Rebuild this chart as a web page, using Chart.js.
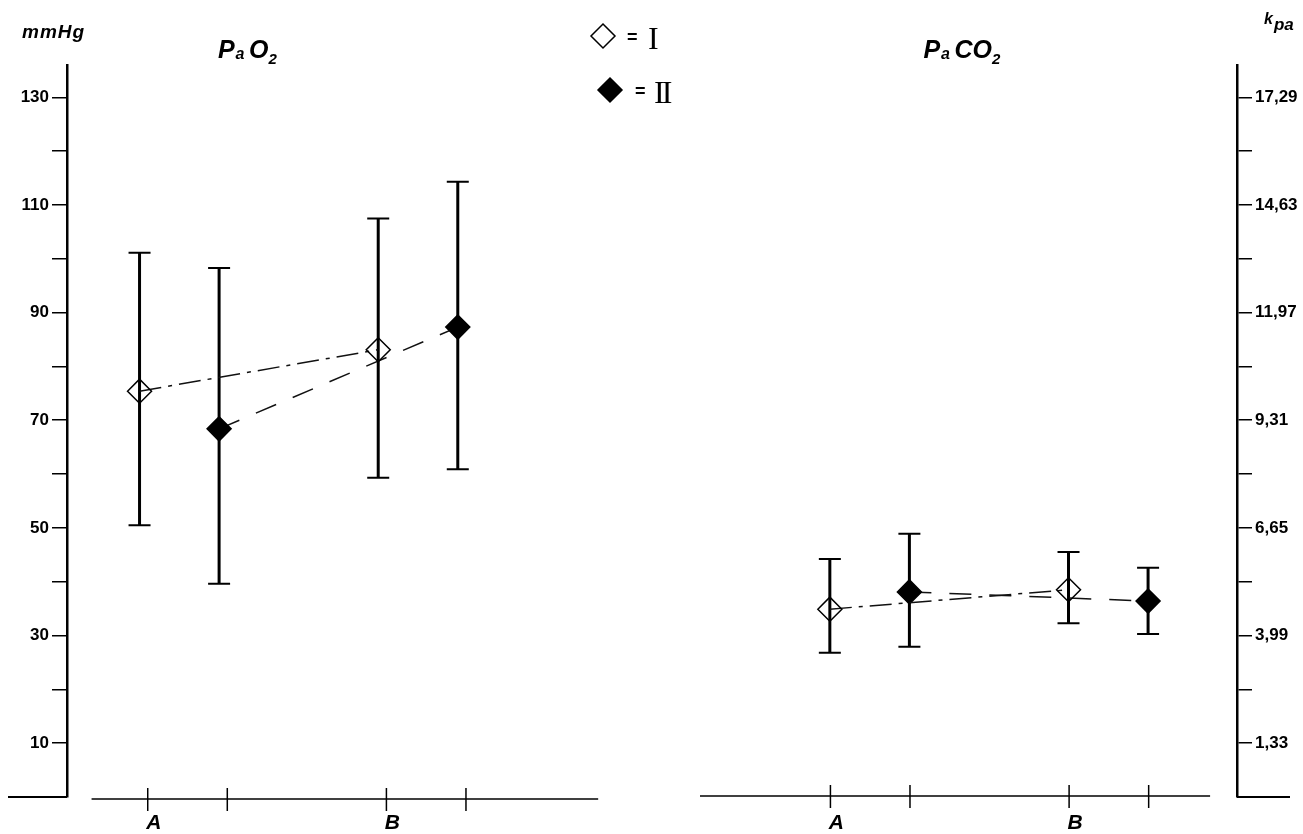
<!DOCTYPE html>
<html><head><meta charset="utf-8">
<script src="https://cdn.jsdelivr.net/npm/chart.js@4.4.1/dist/chart.umd.min.js"></script>
<style>html,body{margin:0;padding:0;background:#fff}canvas{display:block}</style>
</head><body>
<canvas id="c" width="1303" height="834"></canvas>
<script>
// ---------------- data ----------------
const categories = ['A', 'B'];
const groups = ['I', 'II'];
const panelTitles = [['P', 'a', ' ', 'O', '2'], ['P', 'a', ' ', 'CO', '2']];

const pao2Mean_I  = [75.4, 83.1];
const pao2High_I  = [101.1, 107.5];
const pao2Low_I   = [50.5, 59.3];
const pao2Mean_II = [68.4, 87.3];
const pao2High_II = [98.3, 114.3];
const pao2Low_II  = [39.6, 60.9];

const paco2Mean_I  = [34.9, 38.5];
const paco2High_I  = [44.2, 45.5];
const paco2Low_I   = [26.8, 32.3];
const paco2Mean_II = [38.1, 36.4];
const paco2High_II = [48.9, 42.6];
const paco2Low_II  = [27.9, 30.3];

const tickValues    = [10, 20, 30, 40, 50, 60, 70, 80, 90, 100, 110, 120, 130];
const mmHgTickLabels = ['10', '', '30', '', '50', '', '70', '', '90', '', '110', '', '130'];
const kPaTickLabels  = ['1,33', '', '3,99', '', '6,65', '', '9,31', '', '11,97', '', '14,63', '', '17,29'];

// ---------------- layout (positions in x-scale units) ----------------
const LAYOUT = {
  panelStart: [6.2, 65.2], catStep: 20.4, groupStep: 6.8,
  axisSpan: [[2.1, 45.4], [54.1, 97.7]], tickShift: [0.7, 0.05],
  titleX: [12.9, 73.2]
};
const xFor = (p, c, g) => LAYOUT.panelStart[p] + c * LAYOUT.catStep + g * LAYOUT.groupStep;

const FONT = '"Liberation Sans", Arial, sans-serif';

function makeDs(p, g, means, highs, lows) {
  return {
    label: groups[g],
    data: means.map((m, c) => ({ x: xFor(p, c, g), y: m })),
    errHigh: highs, errLow: lows,
    borderColor: '#111', borderWidth: 1.5,
    borderDash: g === 0 ? [22, 7, 4, 7] : [22, 18],
    pointStyle: 'rectRot', pointRadius: 12, pointHoverRadius: 12,
    pointBorderColor: '#000', pointBorderWidth: 1.5,
    pointBackgroundColor: g === 0 ? 'rgba(255,255,255,0)' : '#000',
    fill: false, tension: 0
  };
}

const datasets = [
  makeDs(0, 0, pao2Mean_I, pao2High_I, pao2Low_I),
  makeDs(0, 1, pao2Mean_II, pao2High_II, pao2Low_II),
  makeDs(1, 0, paco2Mean_I, paco2High_I, paco2Low_I),
  makeDs(1, 1, paco2Mean_II, paco2High_II, paco2Low_II)
];

function diamond(ctx, x, y, r, filled) {
  ctx.beginPath();
  ctx.moveTo(x, y - r); ctx.lineTo(x + r, y); ctx.lineTo(x, y + r); ctx.lineTo(x - r, y); ctx.closePath();
  if (filled) { ctx.fillStyle = '#000'; ctx.fill(); }
  ctx.lineWidth = 1.5; ctx.strokeStyle = '#000'; ctx.stroke();
}

function drawRuns(ctx, x, y, runs) {
  ctx.textAlign = 'left'; ctx.textBaseline = 'alphabetic'; ctx.fillStyle = '#000';
  runs.forEach(r => {
    ctx.font = `italic bold ${r.s}px ${FONT}`;
    ctx.letterSpacing = (r.ls || 0) + 'px';
    ctx.fillText(r.t, x, y + (r.dy || 0));
    x += ctx.measureText(r.t).width + (r.gap || 0);
    ctx.letterSpacing = '0px';
  });
}

const decor = {
  id: 'decor',
  beforeDatasetsDraw(chart) {
    const ctx = chart.ctx, ys = chart.scales.y;
    ctx.save();
    ctx.strokeStyle = '#000';
    chart.data.datasets.forEach((ds, i) => {
      const meta = chart.getDatasetMeta(i);
      meta.data.forEach((el, j) => {
        const yh = ys.getPixelForValue(ds.errHigh[j]);
        const yl = ys.getPixelForValue(ds.errLow[j]);
        ctx.lineWidth = 3;
        ctx.beginPath(); ctx.moveTo(el.x, yh); ctx.lineTo(el.x, yl); ctx.stroke();
        ctx.lineWidth = 2;
        ctx.beginPath();
        ctx.moveTo(el.x - 11, yh); ctx.lineTo(el.x + 11, yh);
        ctx.moveTo(el.x - 11, yl); ctx.lineTo(el.x + 11, yl);
        ctx.stroke();
      });
    });
    ctx.restore();
  },
  afterDraw(chart) {
    const ctx = chart.ctx, xs = chart.scales.x, area = chart.chartArea;
    ctx.save();
    ctx.strokeStyle = '#000';
    // bottom stubs of the vertical axes
    ctx.lineWidth = 2;
    ctx.beginPath();
    ctx.moveTo(8, area.bottom); ctx.lineTo(area.left, area.bottom);
    ctx.moveTo(area.right, area.bottom); ctx.lineTo(area.right + 53, area.bottom);
    ctx.stroke();
    // panel x axes
    [0, 1].forEach(p => {
      const yAx = area.bottom + (p === 0 ? 2 : -1);
      ctx.lineWidth = 1.5;
      ctx.beginPath();
      ctx.moveTo(xs.getPixelForValue(LAYOUT.axisSpan[p][0]), yAx);
      ctx.lineTo(xs.getPixelForValue(LAYOUT.axisSpan[p][1]), yAx);
      ctx.stroke();
      categories.forEach((cat, c) => {
        groups.forEach((g, gi) => {
          const tx = xs.getPixelForValue(xFor(p, c, gi) + LAYOUT.tickShift[p]);
          ctx.lineWidth = 1.5;
          ctx.beginPath(); ctx.moveTo(tx, yAx - 11); ctx.lineTo(tx, yAx + 12); ctx.stroke();
        });
        const lx = xs.getPixelForValue(xFor(p, c, 0) + LAYOUT.tickShift[p]) + 6;
        ctx.font = `italic bold 21px ${FONT}`;
        ctx.fillStyle = '#000'; ctx.textAlign = 'center'; ctx.textBaseline = 'middle';
        ctx.fillText(cat, lx, 823);
      });
      // titles
      const t = panelTitles[p];
      drawRuns(ctx, xs.getPixelForValue(LAYOUT.titleX[p]), 58, [
        { t: t[0], s: 25, gap: 1 }, { t: t[1], s: 16, dy: 1 }, { t: t[2], s: 16 }, { t: t[3], s: 25 }, { t: t[4], s: 15, dy: 6 }
      ]);
    });
    // unit labels
    drawRuns(ctx, 22, 38, [{ t: 'mmHg', s: 19, ls: 1 }]);
    drawRuns(ctx, 1264, 24, [{ t: 'k', s: 16, gap: 1 }, { t: 'pa', s: 17, dy: 6 }]);
    // legend
    diamond(ctx, 603, 36, 12, false);
    diamond(ctx, 610, 90, 12, true);
    ctx.fillStyle = '#000';
    ctx.font = `bold 18px ${FONT}`; ctx.textAlign = 'left'; ctx.textBaseline = 'middle';
    ctx.fillText('=', 627, 38);
    ctx.fillText('=', 635, 92);
    ctx.font = `32px "Liberation Serif", serif`; ctx.textBaseline = 'alphabetic';
    ctx.fillText(groups[0], 648, 49);
    ctx.letterSpacing = '-3px';
    ctx.fillText(groups[1], 654, 103);
    ctx.letterSpacing = '0px';
    ctx.restore();
  }
};

function yAxis(position, labels, width) {
  return {
    type: 'linear', position, min: 0, max: 136,
    afterBuildTicks: s => { s.ticks = tickValues.map(v => ({ value: v })); },
    afterFit: s => { s.width = width; },
    grid: { drawOnChartArea: false, drawTicks: true, tickLength: 15, color: '#000', lineWidth: 1.5 },
    border: { display: true, color: '#000', width: 2.5 },
    ticks: {
      autoSkip: false, padding: 3, color: '#000',
      font: { family: FONT, size: 17, weight: 'bold' },
      callback: v => labels[tickValues.indexOf(v)] ?? ''
    }
  };
}

new Chart(document.getElementById('c'), {
  type: 'line',
  data: { datasets },
  options: {
    responsive: false, animation: false, events: [],
    layout: { padding: { top: 65, bottom: 37, left: 0, right: 0 } },
    plugins: { legend: { display: false }, tooltip: { enabled: false }, title: { display: false } },
    scales: {
      x: { type: 'linear', min: 0, max: 100, display: false },
      y: yAxis('left', mmHgTickLabels, 67),
      y2: yAxis('right', kPaTickLabels, 66)
    }
  },
  plugins: [decor]
});
</script>
</body></html>
